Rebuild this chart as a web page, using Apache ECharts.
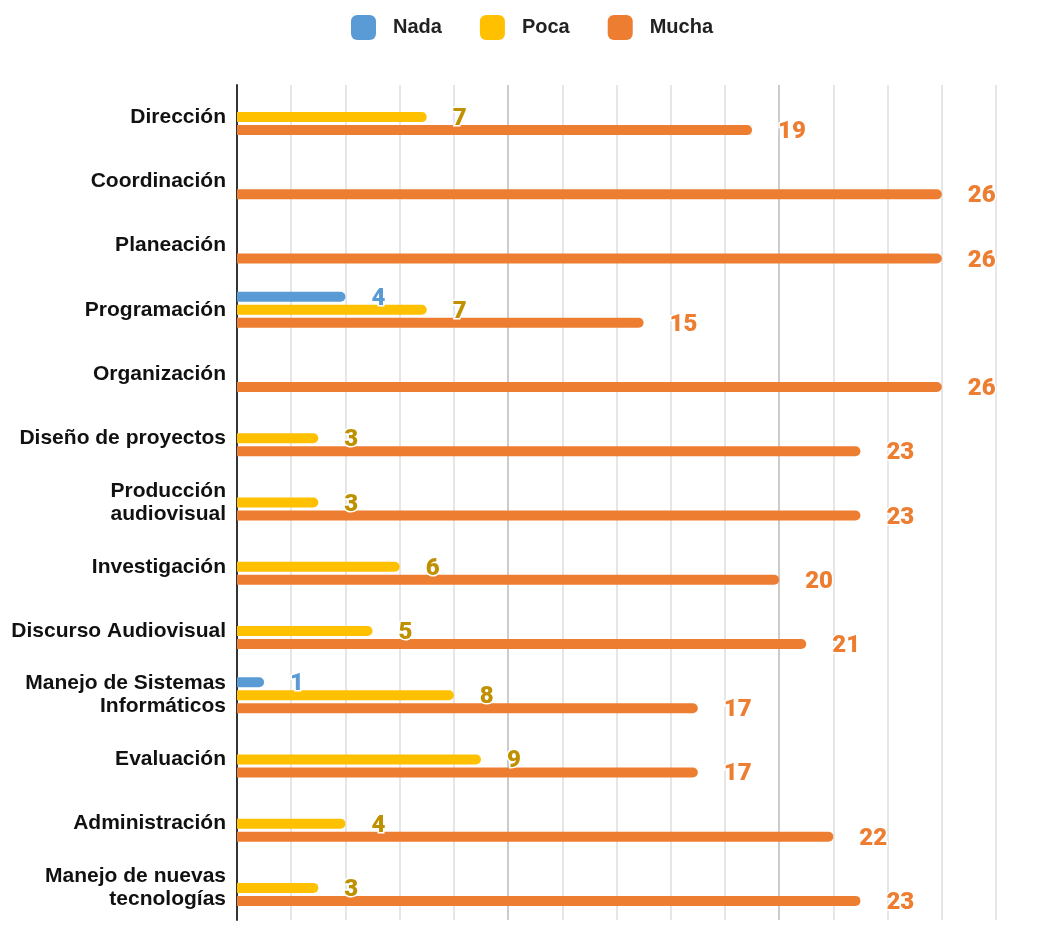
<!DOCTYPE html>
<html>
<head>
<meta charset="utf-8">
<script src="https://cdn.jsdelivr.net/npm/echarts@6/dist/echarts.min.js"></script>
<style>
html,body{margin:0;padding:0;background:#fff;}
#chart{width:1042px;height:926px;}
</style>
</head>
<body>
<div id="chart"></div>
<script>
const categories = ["Dirección","Coordinación","Planeación","Programación","Organización","Diseño de proyectos","Producción\naudiovisual","Investigación","Discurso Audiovisual","Manejo de Sistemas\nInformáticos","Evaluación","Administración","Manejo de nuevas\ntecnologías"];
const nada  = [null,null,null,4,null,null,null,null,null,1,null,null,null];
const poca  = [7,null,null,7,null,3,3,6,5,8,9,4,3];
const mucha = [19,26,26,15,26,23,23,20,21,17,17,22,23];
const seriesNames = ["Nada","Poca","Mucha"];
const colors = ["#5b9bd5","#ffc000","#ed7d31"];
const labelColors = ["#5b9bd5","#bf9000","#ed7d31"];

const chart = echarts.init(document.getElementById('chart'));
function mk(name, data, i){
  return {
    name: name, type: 'bar', data: data,
    barWidth: 10, barGap: '30%',
    itemStyle: {color: colors[i], borderRadius: [0,5,5,0]},
    label: {show: true, position: 'right', distance: 26, offset: [0, 2],
      fontFamily: 'Roboto', fontWeight: 900, fontSize: 24,
      color: labelColors[i], textBorderColor: '#fff', textBorderWidth: 3}
  };
}
chart.setOption({
  animation: false,
  backgroundColor: '#fff',
  color: colors,
  legend: {
    top: 10, left: 346, itemWidth: 25, itemHeight: 25, itemGap: 38,
    icon: 'roundRect',
    textStyle: {fontFamily: 'Liberation Sans', fontWeight: 'bold', fontSize: 20, color: '#222', padding:[0,0,0,12]},
    data: seriesNames
  },
  grid: {left: 237, right: 46, top: 85, bottom: 6, containLabel: false},
  xAxis: {
    type: 'value', min: 0, max: 28, interval: 2,
    axisLabel: {show: false}, axisTick: {show: false}, axisLine: {show: false},
    splitLine: {show: true, lineStyle: {color: ['#cccccc','#e6e6e6','#e6e6e6','#e6e6e6','#e6e6e6'], width: 2}}
  },
  yAxis: {
    type: 'category', data: categories, inverse: true,
    axisTick: {show: false},
    axisLine: {show: true, lineStyle: {color: '#333', width: 2}},
    axisLabel: {fontFamily: 'Liberation Sans', fontWeight: 'bold', fontSize: 21, color: '#111', margin: 11, lineHeight: 23, align: 'right'}
  },
  series: [mk('Nada', nada, 0), mk('Poca', poca, 1), mk('Mucha', mucha, 2)]
});
</script>
</body>
</html>
